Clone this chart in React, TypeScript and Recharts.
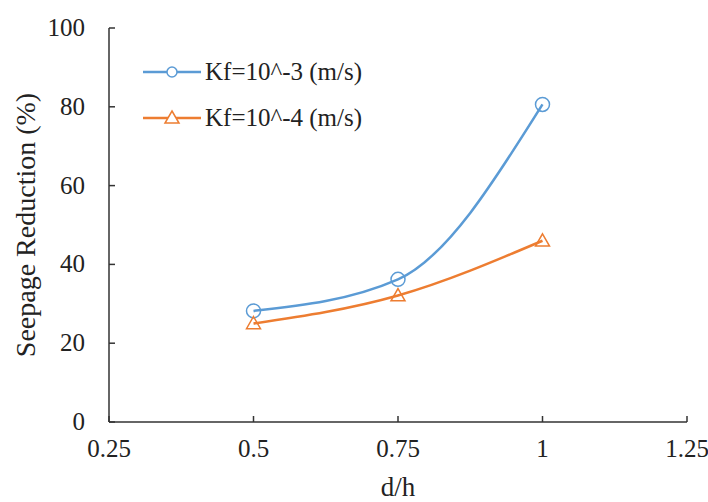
import React from 'react'
import { LineChart, Line, XAxis, YAxis } from 'recharts'

const dRatio = [0.5, 0.75, 1]
const kf3 = [28.2, 36.2, 80.6]
const kf4 = [25.0, 32.1, 46.0]
const xTicks = [0.25, 0.5, 0.75, 1, 1.25]
const yTicks = [0, 20, 40, 60, 80, 100]
const seriesNames = ['Kf=10^-3 (m/s)', 'Kf=10^-4 (m/s)']

const BLUE = '#5B9BD5'
const ORANGE = '#ED7D31'
const FONT = '"Liberation Serif", "Times New Roman", serif'

const data = dRatio.map((d, i) => ({ d, kf3: kf3[i], kf4: kf4[i] }))

const XTick = (props: any) => {
    const { x, y, payload } = props
    return (
        <g>
            <line x1={x} y1={y} x2={x} y2={y - 6} stroke="#333" strokeWidth={1.5} />
            <text x={x} y={y + 35} textAnchor="middle" fontSize={25} fontFamily={FONT} fill="#222">
                {payload.value}
            </text>
        </g>
    )
}

const YTick = (props: any) => {
    const { x, y, payload } = props
    return (
        <g>
            <line x1={x} y1={y} x2={x + 6} y2={y} stroke="#333" strokeWidth={1.5} />
            <text x={x - 24} y={y + 8} textAnchor="end" fontSize={25} fontFamily={FONT} fill="#222">
                {payload.value}
            </text>
        </g>
    )
}

const Circle = (props: any) => {
    const { cx, cy, index } = props
    return <circle key={`c${index}`} cx={cx} cy={cy} r={7} fill="none" stroke={BLUE} strokeWidth={1.5} />
}

const Triangle = (props: any) => {
    const { cx, cy, index } = props
    const h = 7
    return (
        <polygon
            key={`t${index}`}
            points={`${cx},${cy - h} ${cx + h},${cy + h * 0.75} ${cx - h},${cy + h * 0.75}`}
            fill="none"
            stroke={ORANGE}
            strokeWidth={1.5}
        />
    )
}

// legend drawn by hand so it doesn't push the plot area around
const LegendBox = () => {
    const rows = [
        { name: seriesNames[0], color: BLUE, mark: 'circle' },
        { name: seriesNames[1], color: ORANGE, mark: 'triangle' },
    ]
    return (
        <div style={{ position: 'absolute', left: 143, top: 49, fontFamily: FONT, fontSize: 25, color: '#222' }}>
            {rows.map((r) => (
                <div key={r.name} style={{ display: 'flex', alignItems: 'center', height: 46, whiteSpace: 'nowrap' }}>
                    <svg width={60} height={20} style={{ marginRight: 2 }}>
                        <line x1={0} y1={10} x2={58} y2={10} stroke={r.color} strokeWidth={2.5} />
                        {r.mark === 'circle' ? (
                            <circle cx={29} cy={10} r={5} fill="#fff" stroke={r.color} strokeWidth={1.5} />
                        ) : (
                            <polygon points="29,3 36,15 22,15" fill="#fff" stroke={r.color} strokeWidth={1.5} />
                        )}
                    </svg>
                    <span>{r.name}</span>
                </div>
            ))}
        </div>
    )
}

export default function App() {
    return (
        <div style={{ position: 'absolute', left: 0, top: 0, width: 708, height: 502, background: '#fff' }}>
            <LineChart width={708} height={502} data={data} margin={{ top: 28, right: 21, bottom: 30, left: 49 }}>
                <XAxis
                    dataKey="d"
                    type="number"
                    domain={[0.25, 1.25]}
                    ticks={xTicks}
                    tick={<XTick />}
                    tickLine={false}
                    tickSize={0}
                    tickMargin={0}
                    height={50}
                    stroke="#333"
                    strokeWidth={1.5}
                    label={{ value: 'd/h', position: 'insideBottom', offset: -24, fontSize: 27, fontFamily: FONT, fill: '#222' }}
                />
                <YAxis
                    type="number"
                    domain={[0, 100]}
                    ticks={yTicks}
                    tick={<YTick />}
                    tickLine={false}
                    tickSize={0}
                    tickMargin={0}
                    width={60}
                    stroke="#333"
                    strokeWidth={1.5}
                    label={{
                        value: 'Seepage Reduction (%)',
                        angle: -90,
                        position: 'insideLeft',
                        offset: -24,
                        style: { textAnchor: 'middle' },
                        fontSize: 28,
                        fontFamily: FONT,
                        fill: '#222',
                    }}
                />
                <Line
                    type="monotone"
                    dataKey="kf3"
                    name={seriesNames[0]}
                    stroke={BLUE}
                    strokeWidth={2.5}
                    dot={Circle}
                    activeDot={false}
                    isAnimationActive={false}
                />
                <Line
                    type="monotone"
                    dataKey="kf4"
                    name={seriesNames[1]}
                    stroke={ORANGE}
                    strokeWidth={2.5}
                    dot={Triangle}
                    activeDot={false}
                    isAnimationActive={false}
                />
            </LineChart>
            <LegendBox />
        </div>
    )
}
